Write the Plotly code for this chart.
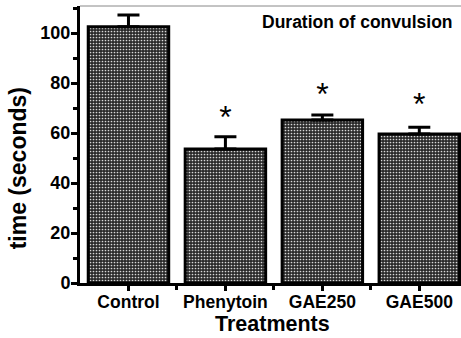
import plotly.graph_objects as go

categories = ["Control", "Phenytoin", "GAE250", "GAE500"]
means = [102.5, 53.6, 65.2, 59.6]
sem = [4.7, 4.9, 2.0, 2.7]
star_y = [None, 65.4, 74.4, 70.4]
star_text = ["", "*", "*", "*"]
y_ticks = [0, 20, 40, 60, 80, 100]

FONT = "Liberation Sans, Arial, sans-serif"
xpos = list(range(len(categories)))

fig = go.Figure()
fig.add_trace(go.Bar(
    x=xpos, y=means, width=0.83,
    marker=dict(
        color="#2a2a2a",
        line=dict(color="black", width=3),
        pattern=dict(shape=".", fgcolor="#d8d8d8", bgcolor="#2a2a2a",
                     size=3, solidity=0.25, fillmode="replace"),
    ),
    error_y=dict(type="data", array=sem, arrayminus=[0] * len(sem),
                 symmetric=False, color="black", thickness=3, width=11),
    hoverinfo="skip", showlegend=False,
))
fig.add_trace(go.Scatter(
    x=xpos, y=star_y, mode="text", text=star_text,
    textfont=dict(family=FONT, size=32, color="black"),
    textposition="middle center", showlegend=False, hoverinfo="skip",
))

fig.add_shape(type="line", xref="paper", yref="paper", x0=0, x1=1, y0=1, y1=1,
              line=dict(color="#888888", width=1))

fig.add_annotation(text="<b>Duration of convulsion</b>", xref="paper", yref="paper",
                   x=1, xshift=-6, y=0.985, xanchor="right", yanchor="top", showarrow=False,
                   font=dict(family=FONT, size=17.5, color="black"))
fig.add_annotation(text="<b>time (seconds)</b>", xref="paper", yref="paper",
                   x=0, xshift=-62, y=0.414, xanchor="center", yanchor="middle",
                   textangle=-90, showarrow=False,
                   font=dict(family=FONT, size=23, color="black"))
fig.add_annotation(text="<b>Treatments</b>", xref="paper", yref="paper",
                   x=0.505, y=0, yshift=-27, xanchor="center", yanchor="top", showarrow=False,
                   font=dict(family=FONT, size=21.5, color="black"))

fig.update_layout(
    width=461, height=338,
    margin=dict(l=80, r=0, t=6, b=55, autoexpand=False),
    paper_bgcolor="white", plot_bgcolor="white",
    font=dict(family=FONT, color="black"),
)
fig.update_xaxes(
    range=[-0.5, 3.43], tickmode="array", tickvals=xpos,
    ticktext=["<b>%s</b>" % c for c in categories],
    tickfont=dict(family=FONT, size=17.5, color="black"),
    ticklabelstandoff=-4,
    showline=True, linecolor="black", linewidth=3,
    ticks="outside", ticklen=5, tickwidth=3, tickcolor="black",
    minor=dict(tickvals=[0.5, 1.5, 2.5], ticks="outside", ticklen=4, tickwidth=3, tickcolor="black"),
    showgrid=False, zeroline=False, automargin=False,
)
fig.update_yaxes(
    range=[0, 110.8], tickmode="array", tickvals=y_ticks,
    ticktext=["<b>%d</b>" % v for v in y_ticks],
    tickfont=dict(family=FONT, size=18, color="black"),
    ticklabelstandoff=-3,
    showline=True, linecolor="black", linewidth=3,
    ticks="outside", ticklen=6, tickwidth=3, tickcolor="black",
    minor=dict(tickvals=[10, 30, 50, 70, 90, 110], ticks="outside", ticklen=4, tickwidth=3, tickcolor="black"),
    showgrid=False, zeroline=False, automargin=False,
)

fig.write_html("out.html", config={"displayModeBar": False},
               post_script="document.body.style.margin='0';")
